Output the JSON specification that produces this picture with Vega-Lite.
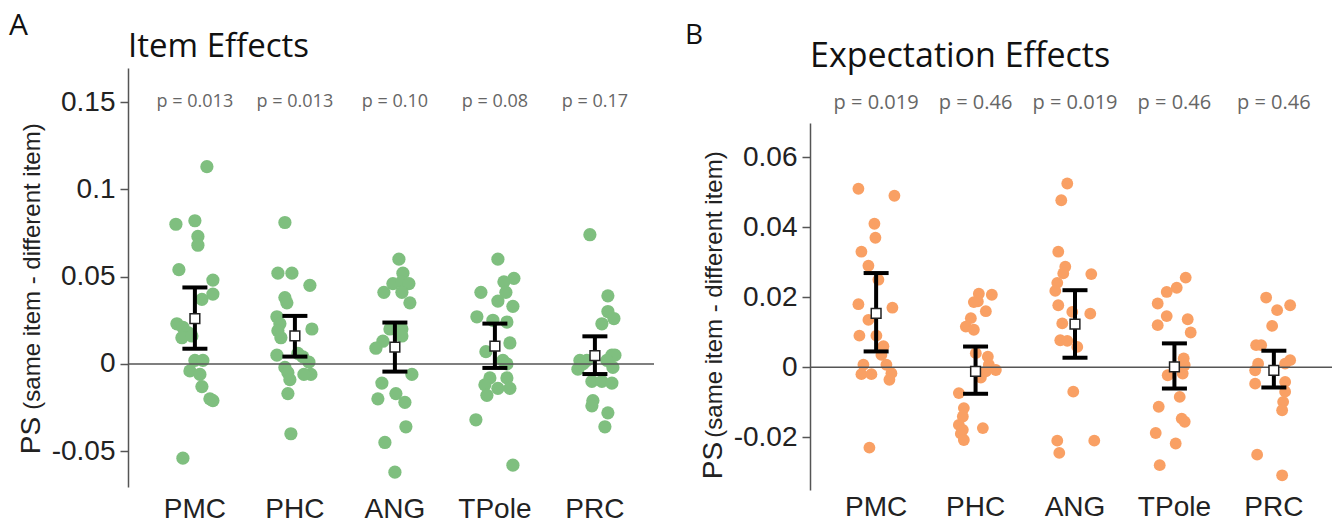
{
  "$schema": "https://vega.github.io/schema/vega-lite/v6.json",
  "background": "white",
  "padding": {"left": 9, "top": 11, "right": 0, "bottom": 0},
  "config": {
    "view": {"stroke": null},
    "axis": {"grid": false},
    "title": {"font": "Open Sans", "fontWeight": "normal", "color": "#111111", "anchor": "start"}
  },
  "datasets": {
    "ptsA": [
      {"region": "PMC", "ps": 0.113, "j": 0.12}, {"region": "PMC", "ps": 0.080, "j": -0.19}, {"region": "PMC", "ps": 0.082, "j": 0.0},
      {"region": "PMC", "ps": 0.073, "j": 0.03}, {"region": "PMC", "ps": 0.068, "j": 0.03}, {"region": "PMC", "ps": 0.054, "j": -0.16},
      {"region": "PMC", "ps": 0.048, "j": 0.18}, {"region": "PMC", "ps": 0.040, "j": 0.18}, {"region": "PMC", "ps": 0.037, "j": 0.07},
      {"region": "PMC", "ps": 0.023, "j": -0.18}, {"region": "PMC", "ps": 0.021, "j": -0.12}, {"region": "PMC", "ps": 0.018, "j": -0.07},
      {"region": "PMC", "ps": 0.015, "j": -0.13}, {"region": "PMC", "ps": 0.016, "j": -0.03}, {"region": "PMC", "ps": 0.002, "j": 0.0},
      {"region": "PMC", "ps": 0.002, "j": 0.08}, {"region": "PMC", "ps": -0.004, "j": -0.05}, {"region": "PMC", "ps": -0.006, "j": 0.05},
      {"region": "PMC", "ps": -0.013, "j": 0.07}, {"region": "PMC", "ps": -0.020, "j": 0.15}, {"region": "PMC", "ps": -0.021, "j": 0.18},
      {"region": "PMC", "ps": -0.054, "j": -0.12},
      {"region": "PHC", "ps": 0.081, "j": -0.10}, {"region": "PHC", "ps": 0.052, "j": -0.17}, {"region": "PHC", "ps": 0.052, "j": -0.03},
      {"region": "PHC", "ps": 0.045, "j": 0.15}, {"region": "PHC", "ps": 0.038, "j": -0.10}, {"region": "PHC", "ps": 0.035, "j": -0.08},
      {"region": "PHC", "ps": 0.027, "j": -0.18}, {"region": "PHC", "ps": 0.023, "j": -0.15}, {"region": "PHC", "ps": 0.019, "j": -0.17},
      {"region": "PHC", "ps": 0.015, "j": -0.14}, {"region": "PHC", "ps": 0.020, "j": 0.17}, {"region": "PHC", "ps": 0.005, "j": -0.18},
      {"region": "PHC", "ps": 0.006, "j": 0.03}, {"region": "PHC", "ps": -0.002, "j": -0.10}, {"region": "PHC", "ps": -0.005, "j": -0.07},
      {"region": "PHC", "ps": 0.001, "j": 0.14}, {"region": "PHC", "ps": -0.006, "j": 0.16}, {"region": "PHC", "ps": -0.006, "j": 0.09},
      {"region": "PHC", "ps": -0.009, "j": -0.05}, {"region": "PHC", "ps": -0.017, "j": -0.07}, {"region": "PHC", "ps": -0.040, "j": -0.04},
      {"region": "PHC", "ps": 0.004, "j": 0.08},
      {"region": "ANG", "ps": 0.060, "j": 0.04}, {"region": "ANG", "ps": 0.052, "j": 0.08}, {"region": "ANG", "ps": 0.046, "j": -0.02},
      {"region": "ANG", "ps": 0.047, "j": 0.07}, {"region": "ANG", "ps": 0.046, "j": 0.14}, {"region": "ANG", "ps": 0.041, "j": -0.11},
      {"region": "ANG", "ps": 0.041, "j": 0.07}, {"region": "ANG", "ps": 0.035, "j": 0.15}, {"region": "ANG", "ps": 0.020, "j": -0.05},
      {"region": "ANG", "ps": 0.020, "j": 0.07}, {"region": "ANG", "ps": 0.016, "j": 0.07}, {"region": "ANG", "ps": 0.013, "j": -0.12},
      {"region": "ANG", "ps": 0.009, "j": -0.19}, {"region": "ANG", "ps": -0.006, "j": 0.17}, {"region": "ANG", "ps": -0.011, "j": -0.13},
      {"region": "ANG", "ps": -0.020, "j": -0.17}, {"region": "ANG", "ps": -0.017, "j": 0.01}, {"region": "ANG", "ps": -0.022, "j": 0.10},
      {"region": "ANG", "ps": -0.036, "j": 0.11}, {"region": "ANG", "ps": -0.045, "j": -0.10}, {"region": "ANG", "ps": -0.062, "j": 0.0},
      {"region": "TPole", "ps": 0.060, "j": 0.03}, {"region": "TPole", "ps": 0.049, "j": 0.19}, {"region": "TPole", "ps": 0.047, "j": 0.09},
      {"region": "TPole", "ps": 0.041, "j": -0.14}, {"region": "TPole", "ps": 0.041, "j": 0.11}, {"region": "TPole", "ps": 0.036, "j": 0.03},
      {"region": "TPole", "ps": 0.033, "j": 0.18}, {"region": "TPole", "ps": 0.027, "j": -0.18}, {"region": "TPole", "ps": 0.025, "j": -0.02},
      {"region": "TPole", "ps": 0.024, "j": 0.12}, {"region": "TPole", "ps": 0.012, "j": 0.15}, {"region": "TPole", "ps": 0.007, "j": -0.09},
      {"region": "TPole", "ps": 0.002, "j": 0.08}, {"region": "TPole", "ps": 0.000, "j": 0.12}, {"region": "TPole", "ps": -0.008, "j": -0.05},
      {"region": "TPole", "ps": -0.008, "j": 0.12}, {"region": "TPole", "ps": -0.012, "j": -0.10}, {"region": "TPole", "ps": -0.014, "j": 0.15},
      {"region": "TPole", "ps": -0.018, "j": -0.08}, {"region": "TPole", "ps": -0.014, "j": 0.03}, {"region": "TPole", "ps": -0.032, "j": -0.19},
      {"region": "TPole", "ps": -0.058, "j": 0.18},
      {"region": "PRC", "ps": 0.074, "j": -0.05}, {"region": "PRC", "ps": 0.039, "j": 0.13}, {"region": "PRC", "ps": 0.030, "j": 0.13},
      {"region": "PRC", "ps": 0.026, "j": 0.19}, {"region": "PRC", "ps": 0.023, "j": 0.07}, {"region": "PRC", "ps": 0.002, "j": -0.15},
      {"region": "PRC", "ps": 0.002, "j": -0.08}, {"region": "PRC", "ps": 0.005, "j": 0.17}, {"region": "PRC", "ps": 0.005, "j": 0.20},
      {"region": "PRC", "ps": -0.003, "j": -0.17}, {"region": "PRC", "ps": -0.002, "j": 0.18}, {"region": "PRC", "ps": -0.010, "j": -0.03},
      {"region": "PRC", "ps": -0.010, "j": 0.07}, {"region": "PRC", "ps": -0.011, "j": 0.17}, {"region": "PRC", "ps": -0.021, "j": -0.02},
      {"region": "PRC", "ps": -0.024, "j": -0.03}, {"region": "PRC", "ps": -0.028, "j": 0.13}, {"region": "PRC", "ps": -0.036, "j": 0.10},
      {"region": "PRC", "ps": 0.000, "j": -0.12}, {"region": "PRC", "ps": 0.002, "j": 0.12}
    ],
    "sumA": [
      {"region": "PMC", "mean": 0.026, "lo": 0.0087, "hi": 0.0438, "p": "p = 0.013"},
      {"region": "PHC", "mean": 0.016, "lo": 0.0042, "hi": 0.0275, "p": "p = 0.013"},
      {"region": "ANG", "mean": 0.0096, "lo": -0.0044, "hi": 0.0237, "p": "p = 0.10"},
      {"region": "TPole", "mean": 0.0102, "lo": -0.0023, "hi": 0.0231, "p": "p = 0.08"},
      {"region": "PRC", "mean": 0.0048, "lo": -0.0058, "hi": 0.0158, "p": "p = 0.17"}
    ],
    "ptsB": [
      {"region": "PMC", "ps": 0.051, "j": -0.18}, {"region": "PMC", "ps": 0.049, "j": 0.18}, {"region": "PMC", "ps": 0.041, "j": -0.02},
      {"region": "PMC", "ps": 0.037, "j": -0.01}, {"region": "PMC", "ps": 0.033, "j": -0.15}, {"region": "PMC", "ps": 0.029, "j": -0.08},
      {"region": "PMC", "ps": 0.025, "j": 0.02}, {"region": "PMC", "ps": 0.018, "j": -0.18}, {"region": "PMC", "ps": 0.017, "j": 0.16},
      {"region": "PMC", "ps": 0.0135, "j": -0.08}, {"region": "PMC", "ps": 0.009, "j": -0.17}, {"region": "PMC", "ps": 0.009, "j": 0.0},
      {"region": "PMC", "ps": 0.006, "j": 0.07}, {"region": "PMC", "ps": 0.0035, "j": 0.05}, {"region": "PMC", "ps": 0.0007, "j": -0.13},
      {"region": "PMC", "ps": -0.002, "j": -0.15}, {"region": "PMC", "ps": -0.002, "j": -0.05}, {"region": "PMC", "ps": 0.0007, "j": 0.10},
      {"region": "PMC", "ps": -0.0017, "j": 0.15}, {"region": "PMC", "ps": -0.0036, "j": 0.13}, {"region": "PMC", "ps": -0.023, "j": -0.07},
      {"region": "PHC", "ps": 0.021, "j": 0.03}, {"region": "PHC", "ps": 0.0207, "j": 0.16}, {"region": "PHC", "ps": 0.0188, "j": 0.02},
      {"region": "PHC", "ps": 0.0186, "j": -0.02}, {"region": "PHC", "ps": 0.016, "j": 0.10}, {"region": "PHC", "ps": 0.014, "j": -0.05},
      {"region": "PHC", "ps": 0.0116, "j": -0.10}, {"region": "PHC", "ps": 0.0107, "j": -0.02}, {"region": "PHC", "ps": 0.004, "j": 0.0},
      {"region": "PHC", "ps": 0.003, "j": 0.12}, {"region": "PHC", "ps": 0.0007, "j": 0.13}, {"region": "PHC", "ps": -0.0008, "j": 0.20},
      {"region": "PHC", "ps": -0.0012, "j": 0.10}, {"region": "PHC", "ps": -0.003, "j": 0.05}, {"region": "PHC", "ps": -0.0074, "j": -0.17},
      {"region": "PHC", "ps": -0.0117, "j": -0.12}, {"region": "PHC", "ps": -0.0141, "j": -0.13}, {"region": "PHC", "ps": -0.0165, "j": -0.17},
      {"region": "PHC", "ps": -0.0179, "j": -0.13}, {"region": "PHC", "ps": -0.019, "j": -0.15}, {"region": "PHC", "ps": -0.0208, "j": -0.12},
      {"region": "PHC", "ps": -0.0174, "j": 0.07},
      {"region": "ANG", "ps": 0.0525, "j": -0.08}, {"region": "ANG", "ps": 0.0477, "j": -0.14}, {"region": "ANG", "ps": 0.033, "j": -0.17},
      {"region": "ANG", "ps": 0.0287, "j": -0.10}, {"region": "ANG", "ps": 0.0268, "j": -0.12}, {"region": "ANG", "ps": 0.0266, "j": 0.16},
      {"region": "ANG", "ps": 0.0241, "j": -0.18}, {"region": "ANG", "ps": 0.0218, "j": -0.20}, {"region": "ANG", "ps": 0.0177, "j": -0.17},
      {"region": "ANG", "ps": 0.0158, "j": -0.03}, {"region": "ANG", "ps": 0.0153, "j": 0.15}, {"region": "ANG", "ps": 0.0125, "j": -0.13},
      {"region": "ANG", "ps": 0.0077, "j": -0.15}, {"region": "ANG", "ps": 0.0075, "j": -0.08}, {"region": "ANG", "ps": 0.0058, "j": 0.02},
      {"region": "ANG", "ps": -0.007, "j": -0.02}, {"region": "ANG", "ps": -0.021, "j": -0.18}, {"region": "ANG", "ps": -0.0245, "j": -0.16},
      {"region": "ANG", "ps": -0.021, "j": 0.19},
      {"region": "TPole", "ps": 0.0256, "j": 0.11}, {"region": "TPole", "ps": 0.0227, "j": 0.02}, {"region": "TPole", "ps": 0.0215, "j": -0.08},
      {"region": "TPole", "ps": 0.0182, "j": -0.17}, {"region": "TPole", "ps": 0.0146, "j": -0.08}, {"region": "TPole", "ps": 0.012, "j": -0.17},
      {"region": "TPole", "ps": 0.0137, "j": 0.13}, {"region": "TPole", "ps": 0.0099, "j": 0.16}, {"region": "TPole", "ps": 0.0025, "j": 0.09},
      {"region": "TPole", "ps": 0.0006, "j": 0.10}, {"region": "TPole", "ps": -0.0023, "j": -0.07}, {"region": "TPole", "ps": -0.0018, "j": 0.08},
      {"region": "TPole", "ps": -0.0085, "j": 0.05}, {"region": "TPole", "ps": -0.0113, "j": -0.16}, {"region": "TPole", "ps": -0.0147, "j": 0.07},
      {"region": "TPole", "ps": -0.0156, "j": 0.10}, {"region": "TPole", "ps": -0.0188, "j": -0.19}, {"region": "TPole", "ps": -0.0218, "j": 0.01},
      {"region": "TPole", "ps": -0.028, "j": -0.15},
      {"region": "PRC", "ps": 0.0199, "j": -0.08}, {"region": "PRC", "ps": 0.0177, "j": 0.16}, {"region": "PRC", "ps": 0.0163, "j": 0.03},
      {"region": "PRC", "ps": 0.0118, "j": -0.02}, {"region": "PRC", "ps": 0.0063, "j": -0.18}, {"region": "PRC", "ps": 0.0063, "j": -0.13},
      {"region": "PRC", "ps": 0.001, "j": -0.16}, {"region": "PRC", "ps": -0.0009, "j": -0.19}, {"region": "PRC", "ps": 0.002, "j": 0.16},
      {"region": "PRC", "ps": 0.001, "j": 0.11}, {"region": "PRC", "ps": -0.0047, "j": -0.19}, {"region": "PRC", "ps": -0.0042, "j": 0.11},
      {"region": "PRC", "ps": -0.007, "j": 0.11}, {"region": "PRC", "ps": -0.0099, "j": 0.09}, {"region": "PRC", "ps": -0.0123, "j": 0.08},
      {"region": "PRC", "ps": -0.025, "j": -0.17}, {"region": "PRC", "ps": -0.0309, "j": 0.08}
    ],
    "sumB": [
      {"region": "PMC", "mean": 0.0154, "lo": 0.0045, "hi": 0.0269, "p": "p = 0.019"},
      {"region": "PHC", "mean": -0.0012, "lo": -0.0076, "hi": 0.0059, "p": "p = 0.46"},
      {"region": "ANG", "mean": 0.0123, "lo": 0.0027, "hi": 0.022, "p": "p = 0.019"},
      {"region": "TPole", "mean": 0.0001, "lo": -0.0061, "hi": 0.0068, "p": "p = 0.46"},
      {"region": "PRC", "mean": -0.0009, "lo": -0.0058, "hi": 0.0047, "p": "p = 0.46"}
    ],
    "zero": [{"zero": 0}]
  },
  "spacing": 30,
  "hconcat": [
    {
      "title": {"text": "A", "fontSize": 30, "frame": "bounds", "baseline": "alphabetic", "offset": -34, "dx": -8},
      "vconcat": [
        {
          "title": {"text": "Item Effects", "frame": "group", "fontSize": 33, "baseline": "alphabetic", "offset": -22},
          "width": 526,
          "height": 419,
          "layer": [
            {
              "data": {"name": "ptsA"},
              "mark": {"type": "circle", "size": 175, "opacity": 1, "color": "#7fbf7f"},
              "encoding": {
                "x": {"field": "region", "type": "nominal", "sort": ["PMC", "PHC", "ANG", "TPole", "PRC"],
                  "scale": {"type": "band", "paddingInner": 0, "paddingOuter": 0.13, "align": 0.65},
                  "axis": {"title": null, "labelAngle": 0, "domain": false, "ticks": false, "labelFont": "Liberation Sans", "labelFontSize": 28, "labelColor": "#222222", "labelPadding": 8}},
                "xOffset": {"field": "j", "type": "quantitative", "scale": {"domain": [-0.5, 0.5]}},
                "y": {"field": "ps", "type": "quantitative",
                  "scale": {"domain": [-0.0705, 0.1695], "nice": false, "zero": false},
                  "axis": {"values": [-0.05, 0, 0.05, 0.1, 0.15], "labelExpr": "datum.value < 0 ? '-' + format(-datum.value, '.2~f') : format(datum.value, '.2~f')",
                    "labelFont": "Liberation Sans", "labelFontSize": 28, "labelColor": "#222222", "labelPadding": 5,
                    "tickSize": 8, "tickWidth": 1.5, "tickColor": "#555555", "domainColor": "#555555", "domainWidth": 1.5,
                    "title": "PS", "titleFont": "Liberation Sans", "titleFontSize": 28, "titleFontWeight": "normal", "titleColor": "#222222",
                    "titleX": -89, "titleY": 367, "titleAngle": -90, "titleAlign": "center", "titleBaseline": "alphabetic"}}
              }
            },
            {
              "data": {"name": "zero"},
              "mark": {"type": "rule", "color": "#555555", "strokeWidth": 1.5},
              "encoding": {
                "y": {"field": "zero", "type": "quantitative",
                  "axis": {"orient": "left", "labels": false, "ticks": false, "domain": false,
                    "title": "(same item - different item)", "titleFont": "Liberation Sans", "titleFontSize": 24, "titleFontWeight": "normal", "titleColor": "#222222",
                    "titleX": -89, "titleY": 198, "titleAngle": -90, "titleAlign": "center", "titleBaseline": "alphabetic"}}
              }
            },
            {
              "data": {"name": "sumA"},
              "mark": {"type": "rule", "color": "#000000", "strokeWidth": 4},
              "encoding": {
                "x": {"field": "region", "type": "nominal", "sort": ["PMC", "PHC", "ANG", "TPole", "PRC"]},
                "y": {"field": "lo", "type": "quantitative", "axis": null},
                "y2": {"field": "hi"}
              }
            },
            {
              "data": {"name": "sumA"},
              "mark": {"type": "tick", "color": "#000000", "size": 25, "thickness": 4, "opacity": 1},
              "encoding": {
                "x": {"field": "region", "type": "nominal", "sort": ["PMC", "PHC", "ANG", "TPole", "PRC"]},
                "y": {"field": "lo", "type": "quantitative", "axis": null}
              }
            },
            {
              "data": {"name": "sumA"},
              "mark": {"type": "tick", "color": "#000000", "size": 25, "thickness": 4, "opacity": 1},
              "encoding": {
                "x": {"field": "region", "type": "nominal", "sort": ["PMC", "PHC", "ANG", "TPole", "PRC"]},
                "y": {"field": "hi", "type": "quantitative", "axis": null}
              }
            },
            {
              "data": {"name": "sumA"},
              "mark": {"type": "square", "size": 95, "filled": true, "fill": "white", "stroke": "#222222", "strokeWidth": 1.5, "opacity": 1},
              "encoding": {
                "x": {"field": "region", "type": "nominal", "sort": ["PMC", "PHC", "ANG", "TPole", "PRC"]},
                "y": {"field": "mean", "type": "quantitative", "axis": null}
              }
            },
            {
              "data": {"name": "sumA"},
              "mark": {"type": "text", "font": "Open Sans", "fontSize": 18, "color": "#666666", "baseline": "middle", "align": "center"},
              "encoding": {
                "x": {"field": "region", "type": "nominal", "sort": ["PMC", "PHC", "ANG", "TPole", "PRC"]},
                "y": {"datum": 0.15, "axis": null},
                "text": {"field": "p"}
              }
            }
          ],
          "resolve": {"axis": {"y": "independent"}}
        }
      ]
    },
    {
      "title": {"text": "B", "fontSize": 28, "frame": "bounds", "baseline": "alphabetic", "offset": -32, "dx": -14},
      "vconcat": [
        {
          "title": {"text": "Expectation Effects", "frame": "group", "fontSize": 34, "baseline": "alphabetic", "offset": -33},
          "width": 527,
          "height": 422,
          "layer": [
            {
              "data": {"name": "ptsB"},
              "mark": {"type": "circle", "size": 140, "opacity": 1, "color": "#f9a064"},
              "encoding": {
                "x": {"field": "region", "type": "nominal", "sort": ["PMC", "PHC", "ANG", "TPole", "PRC"],
                  "scale": {"type": "band", "paddingInner": 0, "paddingOuter": 0.15, "align": 0.55},
                  "axis": {"title": null, "labelAngle": 0, "domain": false, "ticks": false, "labelFont": "Liberation Sans", "labelFontSize": 28, "labelColor": "#222222", "labelPadding": 3}},
                "xOffset": {"field": "j", "type": "quantitative", "scale": {"domain": [-0.5, 0.5]}},
                "y": {"field": "ps", "type": "quantitative",
                  "scale": {"domain": [-0.0351, 0.0855], "nice": false, "zero": false},
                  "axis": {"values": [-0.02, 0, 0.02, 0.04, 0.06], "labelExpr": "datum.value < 0 ? '-' + format(-datum.value, '.2~f') : format(datum.value, '.2~f')",
                    "labelFont": "Liberation Sans", "labelFontSize": 28, "labelColor": "#222222", "labelPadding": 5,
                    "tickSize": 8, "tickWidth": 1.5, "tickColor": "#555555", "domainColor": "#555555", "domainWidth": 1.5, "domainDash": [367, 600],
                    "title": "PS", "titleFont": "Liberation Sans", "titleFontSize": 28, "titleFontWeight": "normal", "titleColor": "#222222",
                    "titleX": -89, "titleY": 392, "titleAngle": -90, "titleAlign": "center", "titleBaseline": "alphabetic"}}
              }
            },
            {
              "data": {"name": "zero"},
              "mark": {"type": "rule", "color": "#555555", "strokeWidth": 1.5},
              "encoding": {
                "y": {"field": "zero", "type": "quantitative",
                  "axis": {"orient": "left", "labels": false, "ticks": false, "domain": false,
                    "title": "(same item - different item)", "titleFont": "Liberation Sans", "titleFontSize": 24, "titleFontWeight": "normal", "titleColor": "#222222",
                    "titleX": -89, "titleY": 226, "titleAngle": -90, "titleAlign": "center", "titleBaseline": "alphabetic"}}
              }
            },
            {
              "data": {"name": "sumB"},
              "mark": {"type": "rule", "color": "#000000", "strokeWidth": 4},
              "encoding": {
                "x": {"field": "region", "type": "nominal", "sort": ["PMC", "PHC", "ANG", "TPole", "PRC"]},
                "y": {"field": "lo", "type": "quantitative", "axis": null},
                "y2": {"field": "hi"}
              }
            },
            {
              "data": {"name": "sumB"},
              "mark": {"type": "tick", "color": "#000000", "size": 25, "thickness": 4, "opacity": 1},
              "encoding": {
                "x": {"field": "region", "type": "nominal", "sort": ["PMC", "PHC", "ANG", "TPole", "PRC"]},
                "y": {"field": "lo", "type": "quantitative", "axis": null}
              }
            },
            {
              "data": {"name": "sumB"},
              "mark": {"type": "tick", "color": "#000000", "size": 25, "thickness": 4, "opacity": 1},
              "encoding": {
                "x": {"field": "region", "type": "nominal", "sort": ["PMC", "PHC", "ANG", "TPole", "PRC"]},
                "y": {"field": "hi", "type": "quantitative", "axis": null}
              }
            },
            {
              "data": {"name": "sumB"},
              "mark": {"type": "square", "size": 95, "filled": true, "fill": "white", "stroke": "#222222", "strokeWidth": 1.5, "opacity": 1},
              "encoding": {
                "x": {"field": "region", "type": "nominal", "sort": ["PMC", "PHC", "ANG", "TPole", "PRC"]},
                "y": {"field": "mean", "type": "quantitative", "axis": null}
              }
            },
            {
              "data": {"name": "sumB"},
              "mark": {"type": "text", "font": "Open Sans", "fontSize": 20, "color": "#666666", "baseline": "middle", "align": "center"},
              "encoding": {
                "x": {"field": "region", "type": "nominal", "sort": ["PMC", "PHC", "ANG", "TPole", "PRC"]},
                "y": {"datum": 0.0754, "axis": null},
                "text": {"field": "p"}
              }
            }
          ],
          "resolve": {"axis": {"y": "independent"}}
        }
      ]
    }
  ]
}
